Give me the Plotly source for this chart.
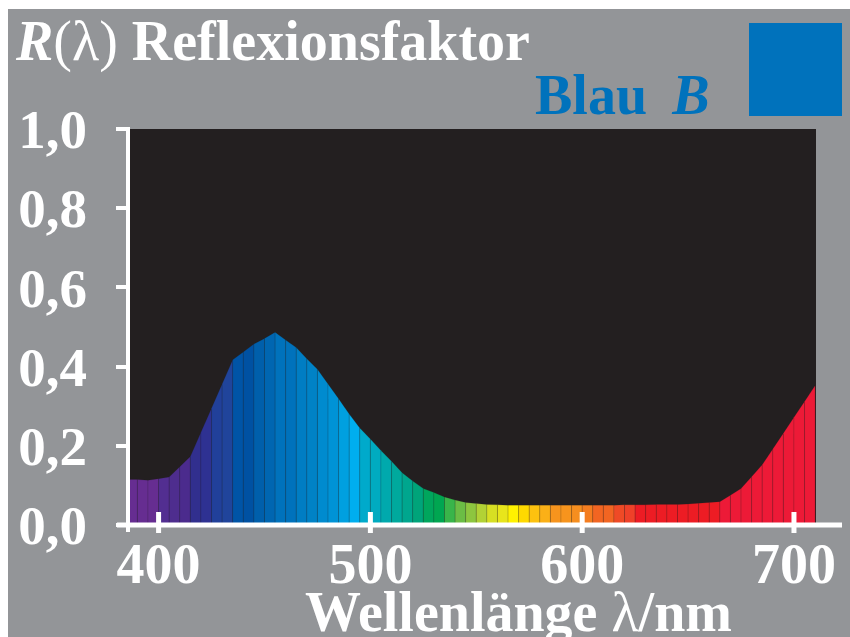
import plotly.graph_objects as go

# ---- data ----
wavelengths = [385, 390, 395, 400, 405, 410, 415, 420, 425, 430, 435, 440, 445, 450, 455,
               460, 465, 470, 475, 480, 485, 490, 495, 500, 505, 510, 515, 520, 525, 530,
               535, 540, 545, 550, 555, 560, 565, 570, 575, 580, 585, 590, 595, 600, 605,
               610, 615, 620, 625, 630, 635, 640, 645, 650, 655, 660, 665, 670, 675, 680,
               685, 690, 695, 700, 705, 710]
reflectance = [0.115, 0.115, 0.113, 0.117, 0.121, 0.147, 0.173, 0.234, 0.295, 0.356, 0.417,
               0.437, 0.457, 0.471, 0.487, 0.467, 0.448, 0.420, 0.393, 0.356, 0.319, 0.280,
               0.245, 0.217, 0.188, 0.161, 0.132, 0.111, 0.092, 0.082, 0.071, 0.063, 0.057,
               0.054, 0.052, 0.051, 0.050, 0.050, 0.050, 0.050, 0.050, 0.050, 0.050, 0.050,
               0.050, 0.050, 0.050, 0.051, 0.051, 0.051, 0.052, 0.052, 0.052, 0.053, 0.055,
               0.057, 0.059, 0.075, 0.092, 0.122, 0.152, 0.192, 0.232, 0.272, 0.312, 0.352]
band_colors = ["#662d91", "#662d91", "#662d91", "#522e91", "#4e2d8e", "#4b2b8d", "#312f8e",
               "#2e3192", "#21409a", "#20449b", "#0054a6", "#0051a2", "#005fab", "#0066b1",
               "#0072bc", "#0072bc", "#007dc3", "#0082c6", "#008bcf", "#0093d6", "#00a0e0",
               "#00aeef", "#00aacb", "#00abc0", "#00a9ad", "#00a99d", "#00a68e", "#00a47a",
               "#00a65d", "#00a651", "#39b54a", "#6bbd45", "#8dc63f", "#b2d235", "#d7df23",
               "#e8e51b", "#fff200", "#ffd900", "#fdc20f", "#fbb017", "#f7941d", "#f7941d",
               "#f68e1f", "#f47d20", "#f26522", "#f26522", "#ef4a26", "#ef4129",
               "#ed1c24", "#ed1c24", "#ed1c24", "#ed1c24", "#ed1c24", "#ed1c24", "#ed1c24",
               "#ed1c24", "#ed1a37", "#ed1a37", "#ed1a37", "#ed1a37", "#ed1a37", "#ed1a37",
               "#ed1a37", "#ed1a37", "#ed1a37"]
x_ticks = [400, 500, 600, 700]
y_ticks = [0.0, 0.2, 0.4, 0.6, 0.8, 1.0]
y_ticktext = ["0,0", "0,2", "0,4", "0,6", "0,8", "1,0"]

GREY = "#939598"
BLACK = "#231f20"
BLUE = "#0072bc"
FONT = "Liberation Serif"

W, H = 850, 637
ML, MR, MT, MB = 130, 34, 129, 112
PW, PH = W - ML - MR, H - MT - MB


def px(x):
    return (x - ML) / PW


def py(y):
    return (H - MB - y) / PH


fig = go.Figure()
for i in range(len(wavelengths) - 1):
    a, b = wavelengths[i], wavelengths[i + 1]
    fig.add_trace(go.Scatter(
        x=[a, a, b, b, a], y=[0, reflectance[i], reflectance[i + 1], 0, 0],
        mode="lines", fill="toself", fillcolor=band_colors[i],
        line=dict(color="rgba(35,31,32,0.22)", width=0.7),
        hoverinfo="skip", showlegend=False))

shapes = [
    # white page border (top and left)
    dict(type="rect", xref="paper", yref="paper", x0=px(-5), x1=px(W + 5), y0=py(9), y1=py(-5),
         fillcolor="white", line_width=0, layer="below"),
    dict(type="rect", xref="paper", yref="paper", x0=px(-5), x1=px(8), y0=py(H + 5), y1=py(-5),
         fillcolor="white", line_width=0, layer="below"),
    # blue swatch
    dict(type="rect", xref="paper", yref="paper", x0=px(749), x1=px(842), y0=py(116), y1=py(23),
         fillcolor=BLUE, line_width=0),
    # axis lines
    dict(type="line", xref="paper", yref="paper", x0=px(117), x1=px(842), y0=0, y1=0,
         line=dict(color="white", width=5)),
    dict(type="line", xref="paper", yref="paper", x0=px(128), x1=px(128), y0=py(532), y1=py(127),
         line=dict(color="white", width=4)),
]
for t in x_ticks:
    shapes.append(dict(type="line", xref="x", yref="paper", x0=t, x1=t, y0=py(533), y1=py(512),
                       line=dict(color="white", width=5)))

annotations = [
    dict(text="<i>R</i><span style='font-weight:normal'>(λ)</span> Reflexionsfaktor",
         xref="paper", yref="paper", x=px(13), y=py(42), xanchor="left", yanchor="middle",
         showarrow=False, font=dict(family=FONT, size=56, color="white", weight="bold")),
    dict(text="Blau \u2009<i>B</i>",
         xref="paper", yref="paper", x=px(712), y=py(95), xanchor="right", yanchor="middle",
         showarrow=False, font=dict(family=FONT, size=56, color=BLUE, weight="bold")),
    dict(text="Wellenlänge <span style='font-weight:normal'>λ</span>/nm",
         xref="paper", yref="paper", x=px(518), y=py(612), xanchor="center", yanchor="middle",
         showarrow=False, font=dict(family=FONT, size=56, color="white", weight="bold")),
]

fig.update_layout(
    width=W, height=H,
    margin=dict(l=ML, r=MR, t=MT, b=MB, pad=0),
    paper_bgcolor=GREY, plot_bgcolor=BLACK,
    shapes=shapes, annotations=annotations,
    xaxis=dict(range=[386.5, 710.4], tickvals=x_ticks, ticks="", showgrid=False,
               zeroline=False, showline=False, ticklabelstandoff=1,
               tickfont=dict(family=FONT, size=56, color="white", weight="bold")),
    yaxis=dict(range=[0, 1], tickvals=y_ticks, ticktext=y_ticktext, ticks="outside",
               ticklen=13, tickwidth=4, tickcolor="white", showgrid=False, zeroline=False,
               showline=False, ticklabelstandoff=18,
               tickfont=dict(family=FONT, size=55, color="white", weight="bold")),
)

fig.write_html("out.html")
